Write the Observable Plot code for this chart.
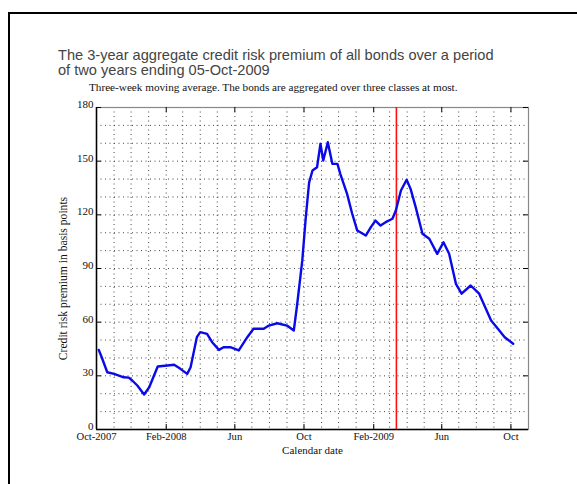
<!DOCTYPE html>
<html><head><meta charset="utf-8">
<script src="https://cdn.jsdelivr.net/npm/d3@7"></script>
<script src="https://cdn.jsdelivr.net/npm/@observablehq/plot@0.6"></script>
<style>
body{margin:0;background:#fff;}
#wrap{position:relative;width:577px;height:484px;overflow:hidden;background:#fff;}
#wrap svg{position:absolute;left:0;top:0;}
#frame{position:absolute;left:8px;top:12px;width:640px;height:540px;border:2px solid #000;box-sizing:border-box;pointer-events:none;}
</style></head><body>
<div id="wrap"></div>
<script>
const dates = ["2007-10-05","2007-10-10","2007-10-20","2007-11-01","2007-11-18","2007-11-27","2007-12-03","2007-12-12","2007-12-24","2008-01-02","2008-01-17","2008-02-03","2008-02-15","2008-02-26","2008-03-09","2008-03-15","2008-03-26","2008-04-01","2008-04-13","2008-04-22","2008-05-04","2008-05-12","2008-05-24","2008-06-08","2008-06-23","2008-07-04","2008-07-22","2008-07-31","2008-08-15","2008-09-01","2008-09-13","2008-09-19","2008-09-28","2008-10-04","2008-10-10","2008-10-16","2008-10-24","2008-10-30","2008-11-04","2008-11-12","2008-11-20","2008-11-29","2008-12-04","2008-12-16","2008-12-25","2009-01-03","2009-01-18","2009-01-27","2009-02-04","2009-02-13","2009-02-22","2009-03-06","2009-03-12","2009-03-21","2009-03-31","2009-04-07","2009-04-16","2009-04-28","2009-05-10","2009-05-24","2009-06-04","2009-06-14","2009-06-26","2009-07-06","2009-07-22","2009-08-06","2009-08-27","2009-09-08","2009-09-20","2009-10-05"];
const premium = [44.5,40.5,32,31.1,29.2,29,27.4,24.6,19.6,23.6,35.2,35.8,36.2,33.9,31.1,34.8,51.6,54.4,53.5,48.8,44.5,46,46,44.2,51.6,56.3,56.3,58.1,59.4,58.1,55.3,70,94.5,118,138,144.8,146.6,159.7,150.4,160.6,148.5,148.5,142.9,131.7,120.6,111.2,108.4,113.1,116.8,114,115.9,117.8,122.4,133.6,139.6,134.5,124.3,109.4,106.6,98.2,104.7,98.2,81.4,75.9,80.5,75.9,60.9,56.3,51.6,47.9];
const eventDate = ["2009-03-13"];
const xDomain = ["2007-10-01","2009-11-01"];
const xTickDates = ["2007-10-01","2008-02-01","2008-06-01","2008-10-01","2009-02-01","2009-06-01","2009-10-01"];
const xTickLabels = ["Oct-2007","Feb-2008","Jun","Oct","Feb-2009","Jun","Oct"];
const yTicks = [0,30,60,90,120,150,180];

const data = dates.map((d,i)=>({date:new Date(d), value:premium[i]}));
const xd = xDomain.map(d=>new Date(d));
const xt = xTickDates.map(d=>new Date(d));
const labelOf = new Map(xt.map((d,i)=>[+d, xTickLabels[i]]));
const months = d3.utcMonth.range(xd[0], xd[1]).slice(1);
const yGrid = d3.range(10,180,10);

const W=577,H=484,ML=96,MR=49,MT=107,MB=55;
const pw=W-ML-MR, ph=H-MT-MB;
const grid = {stroke:"#333", strokeOpacity:0.9, strokeWidth:1, strokeDasharray:"1,3.5"};

const plot = Plot.plot({
  width:W, height:H, marginLeft:ML, marginRight:MR, marginTop:MT, marginBottom:MB,
  style:{fontFamily:"'Liberation Serif', 'Times New Roman', serif", fontSize:"10.6px", color:"#111", background:"transparent"},
  x:{type:"utc", domain:xd},
  y:{domain:[0,180]},
  marks:[
    Plot.gridY(yGrid, grid),
    Plot.gridX(months, grid),
    Plot.frame({stroke:"#888", strokeWidth:1.2}),
    Plot.ruleX([xd[0]], {stroke:"#000", strokeWidth:1.5}),
    Plot.ruleY([0], {stroke:"#000", strokeWidth:1.5}),
    Plot.tickX(xt, {x:d=>d, insetTop:ph-5, stroke:"#000"}),
    Plot.tickX(xt, {x:d=>d, insetBottom:ph-5, stroke:"#000"}),
    Plot.tickY(yTicks, {y:d=>d, insetRight:pw-5, stroke:"#000"}),
    Plot.tickY(yTicks, {y:d=>d, insetLeft:pw-5, stroke:"#000"}),
    Plot.ruleX(eventDate, {x:d=>new Date(d), stroke:"#ff1010", strokeWidth:1.6}),
    Plot.line(data, {x:"date", y:"value", stroke:"#0a0ae8", strokeWidth:2.4, curve:"linear"}),
    Plot.axisX(xt, {tickSize:0, tickPadding:3, tickFormat:d=>labelOf.get(+d), label:null}),
    Plot.axisY(yTicks, {tickSize:0, tickPadding:3, dy:-3, label:null, fontSize:11}),
    Plot.text(["Calendar date"], {frameAnchor:"bottom", dy:24, fontSize:11}),
    Plot.text(["Credit risk premium in basis points"], {frameAnchor:"left", textAnchor:"middle", dx:-33, dy:10, rotate:-90, fontSize:11.6})
  ]
});
document.getElementById("wrap").appendChild(plot);
const svg = d3.select(plot);
const tg = svg.append("g").attr("text-anchor","start").attr("font-family","'Liberation Sans', Arial, sans-serif").attr("fill","#444").attr("font-size",14.6);
tg.append("text").attr("x",58).attr("y",60).text("The 3-year aggregate credit risk premium of all bonds over a period");
tg.append("text").attr("x",58).attr("y",75).text("of two years ending 05-Oct-2009");
svg.append("text").attr("text-anchor","start").attr("x",89).attr("y",91).attr("font-family","'Liberation Serif', 'Times New Roman', serif").attr("font-size",11.2).attr("fill","#111")
  .text("Three-week moving average. The bonds are aggregated over three classes at most.");
const fr = document.createElement("div"); fr.id="frame";
document.getElementById("wrap").appendChild(fr);
</script>
</body></html>
